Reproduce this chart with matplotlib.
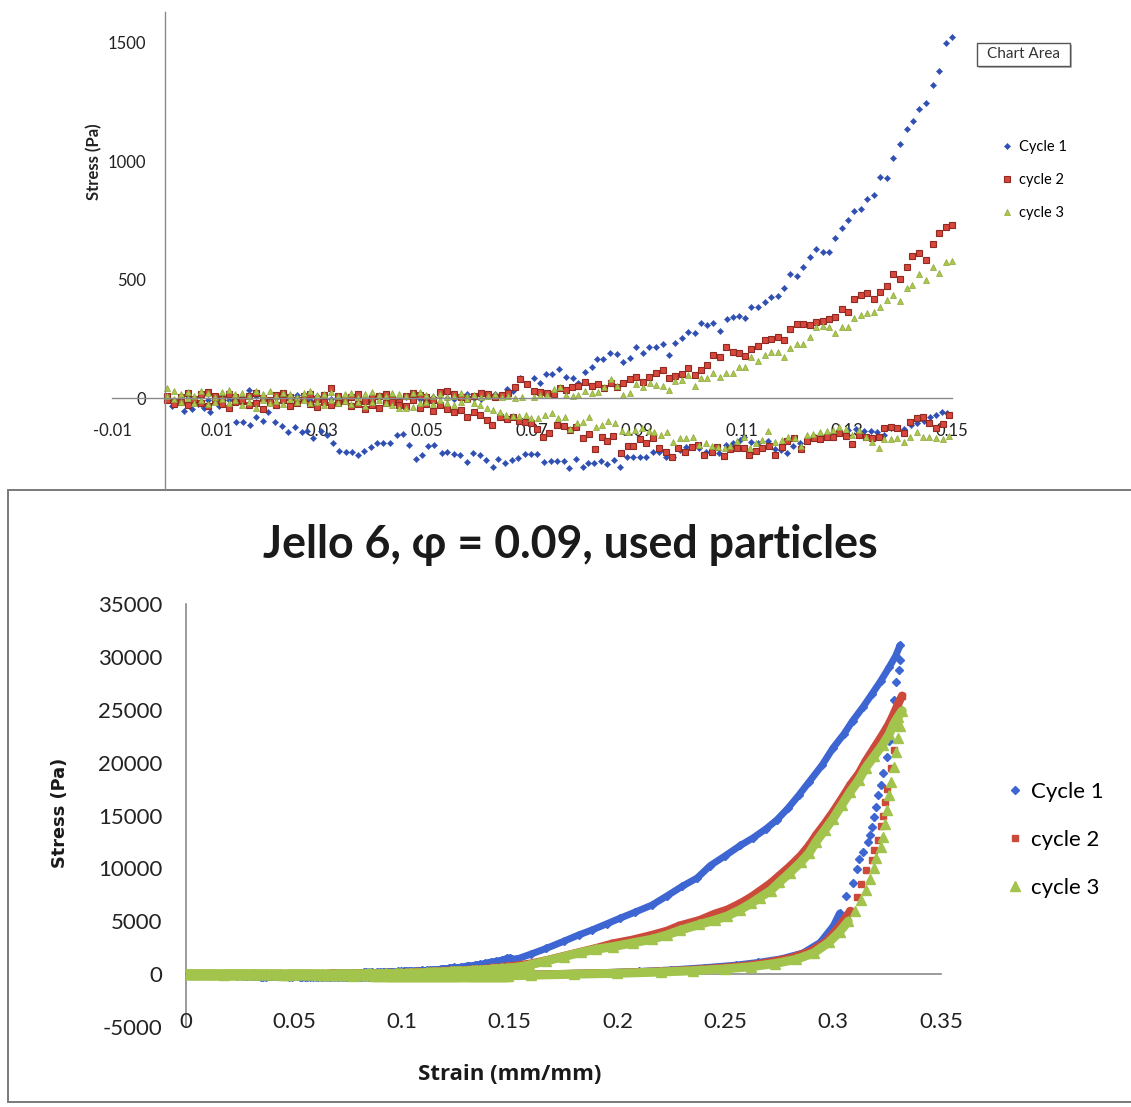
import numpy as np
import matplotlib
matplotlib.use('Agg')
import matplotlib.pyplot as plt
from matplotlib.patches import Rectangle

# ---------------- DATA ----------------
# shared strain grid for the noisy band near zero stress
band_strain = [0.0005, 0.0018, 0.0031, 0.0044, 0.0057, 0.0070, 0.0083, 0.0096, 0.0109, 0.0122,
               0.0135, 0.0148, 0.0161, 0.0174, 0.0187, 0.0200, 0.0213, 0.0226, 0.0239, 0.0252,
               0.0265, 0.0278, 0.0291, 0.0304, 0.0317, 0.0330, 0.0343, 0.0356, 0.0369, 0.0382,
               0.0395, 0.0408, 0.0421, 0.0434, 0.0447, 0.0460, 0.0473, 0.0486, 0.0499, 0.0512,
               0.0525, 0.0538, 0.0551, 0.0564, 0.0577, 0.0590, 0.0603, 0.0616, 0.0629, 0.0642,
               0.0655, 0.0668, 0.0681]

# Cycle 1 loading
c1_load_band = [-5, -18, -10, 8, -15, -24, -10, 5, 12, -8, -18, 3, 34, 10, -5, -12, 2, -8, 5, 12,
                -3, -10, 8, 6, -4, -15, -8, 3, 10, -6, -12, 2, 7, -3, -10, 4, 9, -2, -8, 5,
                12, 0, -6, 8, 15, 2, -3, 10, 18]
c1_load_strain_r = [0.0653, 0.0664, 0.0678, 0.0703, 0.0715, 0.0727, 0.0739, 0.0752, 0.0765, 0.0778,
                    0.0788, 0.0801, 0.0814, 0.0823, 0.0836, 0.0849, 0.0861, 0.0874, 0.0887, 0.0899,
                    0.0912, 0.0923, 0.0936, 0.0949, 0.0960, 0.0972, 0.0985, 0.0998, 0.1010, 0.1021,
                    0.1033, 0.1045, 0.1058, 0.1071, 0.1083, 0.1095, 0.1106, 0.1118, 0.1131, 0.1144,
                    0.1155, 0.1168, 0.1180, 0.1191, 0.1204, 0.1217, 0.1230, 0.1241, 0.1254, 0.1265,
                    0.1277, 0.1290, 0.1302, 0.1313, 0.1327, 0.1339, 0.1351, 0.1363, 0.1377, 0.1388,
                    0.1401, 0.1414, 0.1426, 0.1438, 0.1450, 0.1463, 0.1475, 0.1488, 0.1500,
                    0.153, 0.160, 0.167, 0.175, 0.182, 0.188, 0.195, 0.201, 0.208, 0.216,
                    0.223, 0.230, 0.237, 0.243, 0.250, 0.257, 0.263, 0.269, 0.274, 0.279,
                    0.284, 0.289, 0.295, 0.300, 0.305, 0.309, 0.314, 0.318, 0.322, 0.326,
                    0.329, 0.331]
c1_load_stress_r = [40, 31, 83, 83, 62, 101, 101, 124, 90, 83,
                    65, 111, 130, 163, 163, 191, 186, 153, 168, 214,
                    189, 214, 214, 228, 181, 233, 252, 280, 273, 318,
                    308, 315, 284, 332, 340, 346, 336, 385, 383, 406,
                    425, 432, 463, 523, 515, 554, 596, 627, 615, 615,
                    676, 716, 751, 790, 796, 838, 857, 934, 928, 1011,
                    1073, 1135, 1170, 1218, 1244, 1321, 1381, 1499, 1525,
                    1400, 1900, 2430, 3100, 3700, 4160, 4750, 5270, 5850, 6530,
                    7400, 8300, 9100, 10260, 11200, 12170, 12900, 13760, 14600, 15670,
                    16900, 18210, 19800, 21400, 22700, 23940, 25300, 26490, 27700, 29030,
                    30100, 31100]

# Cycle 1 unloading (listed by increasing strain)
c1_unload_strain = [0.0014, 0.0023, 0.0037, 0.0052, 0.0063, 0.0075, 0.0087, 0.0104, 0.0123, 0.0136,
                    0.0149, 0.0162, 0.0174, 0.0187, 0.0198, 0.0210, 0.0223, 0.0236, 0.0249, 0.0261,
                    0.0272, 0.0283, 0.0298, 0.0309, 0.0321, 0.0333, 0.0346, 0.0357, 0.0369, 0.0380,
                    0.0393, 0.0404, 0.0417, 0.0430, 0.0442, 0.0454, 0.0466, 0.0479, 0.0490, 0.0502,
                    0.0513, 0.0528, 0.0539, 0.0551, 0.0563, 0.0576, 0.0588, 0.0601, 0.0612, 0.0625,
                    0.0636, 0.0649, 0.0661, 0.0674, 0.0687, 0.0699, 0.0710, 0.0723, 0.0736, 0.0747,
                    0.0760, 0.0771, 0.0784, 0.0797, 0.0807, 0.0818, 0.0831, 0.0843, 0.0856, 0.0868,
                    0.0880, 0.0893, 0.0906, 0.0918, 0.0930, 0.0942, 0.0955, 0.0968, 0.0981, 0.0993,
                    0.1006, 0.1019, 0.1031, 0.1044, 0.1057, 0.1070, 0.1083, 0.1096, 0.1103, 0.1117,
                    0.1130, 0.1150, 0.1163, 0.1175, 0.1186, 0.1198, 0.1210, 0.1223, 0.1239, 0.1250,
                    0.1260, 0.1273, 0.1287, 0.1302, 0.1318, 0.1332, 0.1345, 0.1358, 0.1370, 0.1383,
                    0.1396, 0.1409, 0.1421, 0.1434, 0.1447, 0.1458, 0.1470, 0.1480, 0.1491,
                    0.155, 0.170, 0.190, 0.210, 0.225, 0.240, 0.255, 0.265, 0.276, 0.286,
                    0.294, 0.300, 0.303, 0.306, 0.309, 0.311, 0.312, 0.314, 0.316, 0.317,
                    0.318, 0.319, 0.320, 0.321, 0.322, 0.323, 0.325, 0.326, 0.327, 0.328,
                    0.329, 0.3305, 0.331]
c1_unload_stress = [-32, -22, -55, -46, -27, -40, -60, -32, -39, -100,
                    -100, -114, -79, -97, -58, -100, -117, -142, -124, -142,
                    -139, -170, -138, -156, -190, -222, -226, -226, -240, -224,
                    -205, -191, -189, -189, -156, -152, -198, -257, -240, -201,
                    -198, -231, -227, -236, -241, -269, -233, -241, -262, -290,
                    -259, -273, -262, -255, -236, -238, -238, -269, -265, -265,
                    -265, -297, -259, -292, -273, -273, -265, -279, -262, -292,
                    -248, -250, -250, -250, -227, -227, -248, -250, -219, -208,
                    -205, -212, -227, -215, -232, -200, -190, -175, -166, -185,
                    -190, -180, -217, -220, -231, -203, -189, -174, -166, -160,
                    -156, -150, -142, -135, -132, -141, -138, -145, -156, -128,
                    -125, -132, -114, -104, -96, -79, -72, -58, -62,
                    -50, 30, 120, 250, 400, 600, 850, 1100, 1450, 2000,
                    3000, 4540, 5770, 7380, 8610, 9930, 10880, 11540, 12490, 13150,
                    13910, 14850, 15800, 16930, 17880, 19010, 20500, 22000, 24000, 25920,
                    27620, 28760, 29700]

# Cycle 2 loading
c2_load_band = [10, -15, 5, 20, -10, 15, 25, 8, -5, 18, 5, -12, 10, 22, 0, -8, 12, 20, 5, -10,
                8, 15, -5, 12, 41, 10, -8, 5, 15, -12, 0, 10, 18, -5, -15, 8, 20, 12, 5, -10,
                25, 30, 15, 5, -5, 10, 20, 15, 5, 12]
c2_load_strain_r = [0.0655, 0.0668, 0.0678, 0.0690, 0.0703, 0.0716, 0.0728, 0.0741, 0.0753, 0.0765,
                    0.0776, 0.0788, 0.0801, 0.0814, 0.0825, 0.0837, 0.0850, 0.0862, 0.0874, 0.0887,
                    0.0899, 0.0912, 0.0923, 0.0936, 0.0949, 0.0960, 0.0972, 0.0985, 0.0998, 0.1010,
                    0.1021, 0.1033, 0.1045, 0.1058, 0.1070, 0.1082, 0.1095, 0.1106, 0.1118, 0.1131,
                    0.1144, 0.1155, 0.1168, 0.1180, 0.1191, 0.1204, 0.1217, 0.1230, 0.1241, 0.1254,
                    0.1265, 0.1277, 0.1290, 0.1302, 0.1313, 0.1327, 0.1339, 0.1351, 0.1363, 0.1377,
                    0.1388, 0.1401, 0.1414, 0.1424, 0.1438, 0.1450, 0.1463, 0.1475, 0.1488, 0.1500,
                    0.155, 0.160, 0.167, 0.175, 0.183, 0.190, 0.198, 0.207, 0.216, 0.223,
                    0.229, 0.238, 0.245, 0.251, 0.257, 0.262, 0.266, 0.271, 0.275, 0.280,
                    0.285, 0.289, 0.292, 0.296, 0.300, 0.304, 0.308, 0.312, 0.315, 0.319,
                    0.323, 0.326, 0.328, 0.330, 0.332]
c2_load_stress_r = [22, 45, 79, 59, 31, 25, 20, 17, 41, 35,
                    45, 51, 69, 51, 58, 41, 62, 48, 62, 79,
                    87, 69, 87, 104, 118, 83, 93, 101, 125, 97,
                    118, 141, 181, 172, 217, 195, 189, 177, 205, 219,
                    245, 249, 259, 245, 291, 312, 312, 308, 322, 326,
                    332, 340, 374, 364, 416, 435, 444, 416, 449, 473,
                    523, 501, 554, 600, 610, 582, 650, 695, 720, 730,
                    850, 1000, 1300, 1700, 2100, 2450, 2900, 3250, 3700, 4100,
                    4600, 5100, 5700, 6100, 6700, 7300, 7870, 8600, 9310, 10200,
                    11210, 12200, 13120, 14200, 15350, 16600, 17900, 19000, 20120, 21400,
                    22670, 23700, 24580, 25500, 26330]

# Cycle 2 unloading
c2_unload_band = [-10, -25, -15, -30, -5, -20, -35, -12, -25, -40, -18, -8, -30, -22, -45, -15,
                  -28, -10, -35, -20, -5, -25, -38, -15, -30, -20, -12, -35, -25, -45, -30, -43,
                  -20, -15, -28, -35, -10, -40, -25, -55, -30, -45, -60, -50]
c2_unload_strain_r = [0.0576, 0.0589, 0.0601, 0.0614, 0.0623, 0.0639, 0.0652, 0.0664, 0.0676, 0.0687,
                      0.0699, 0.0710, 0.0720, 0.0733, 0.0747, 0.0760, 0.0772, 0.0784, 0.0797, 0.0809,
                      0.0820, 0.0833, 0.0842, 0.0855, 0.0869, 0.0882, 0.0893, 0.0906, 0.0918, 0.0931,
                      0.0942, 0.0955, 0.0966, 0.0979, 0.0991, 0.1004, 0.1017, 0.1028, 0.1042, 0.1053,
                      0.1066, 0.1078, 0.1091, 0.1103, 0.1114, 0.1127, 0.1139, 0.1152, 0.1163, 0.1176,
                      0.1186, 0.1199, 0.1212, 0.1224, 0.1237, 0.1249, 0.1261, 0.1273, 0.1285, 0.1298,
                      0.1309, 0.1323, 0.1336, 0.1347, 0.1360, 0.1370, 0.1383, 0.1396, 0.1409, 0.1420,
                      0.1433, 0.1445, 0.1457, 0.1470, 0.1482, 0.1495,
                      0.160, 0.180, 0.200, 0.220, 0.235, 0.248, 0.260, 0.270, 0.281, 0.290,
                      0.297, 0.303, 0.308, 0.311, 0.313, 0.315, 0.318, 0.319, 0.321, 0.322,
                      0.323, 0.324, 0.325, 0.327, 0.328, 0.330, 0.331]
c2_unload_stress_r = [-79, -60, -70, -93, -114, -79, -90, -79, -95, -100,
                      -107, -130, -163, -146, -114, -120, -135, -124, -170, -152,
                      -216, -166, -180, -160, -231, -203, -203, -174, -189, -170,
                      -212, -227, -248, -212, -227, -205, -198, -240, -227, -208,
                      -245, -217, -212, -212, -240, -222, -212, -203, -240, -205,
                      -180, -170, -217, -180, -170, -174, -165, -163, -149, -160,
                      -194, -156, -166, -170, -163, -128, -121, -128, -146, -100,
                      -86, -79, -104, -128, -110, -72,
                      -60, 20, 110, 250, 400, 580, 800, 1100, 1550, 2200,
                      3100, 4540, 5980, 7270, 8550, 9830, 10800, 11760, 12720, 14000,
                      14970, 16250, 17500, 19460, 21220, 23500, 25000]

# Cycle 3 loading
c3_load_band = [42, 30, 15, 25, 10, 30, 20, 5, 25, 35, 15, 20, 8, 28, 18, 30, 10, 22, 15, 5,
                20, 28, 12, 18, 25, 10, 15, 20, 5, 18, 25, 12, 8, 22, 15, 10, 20, 25, 12, 8,
                15, 5, 10, 20, 8, 12, 5, 10, 15, 5, 8, 0, 5]
c3_load_strain_r = [0.0703, 0.0715, 0.0728, 0.0741, 0.0753, 0.0765, 0.0778, 0.0788, 0.0801, 0.0814,
                    0.0825, 0.0837, 0.0850, 0.0861, 0.0874, 0.0887, 0.0899, 0.0912, 0.0925, 0.0936,
                    0.0949, 0.0960, 0.0972, 0.0985, 0.0998, 0.1010, 0.1021, 0.1033, 0.1045, 0.1058,
                    0.1070, 0.1082, 0.1095, 0.1106, 0.1118, 0.1131, 0.1144, 0.1155, 0.1168, 0.1180,
                    0.1191, 0.1204, 0.1217, 0.1230, 0.1241, 0.1254, 0.1265, 0.1277, 0.1290, 0.1302,
                    0.1313, 0.1327, 0.1339, 0.1351, 0.1363, 0.1377, 0.1388, 0.1401, 0.1414, 0.1424,
                    0.1438, 0.1450, 0.1463, 0.1475, 0.1488, 0.1500,
                    0.155, 0.159, 0.167, 0.175, 0.183, 0.190, 0.198, 0.207, 0.216, 0.223,
                    0.229, 0.238, 0.245, 0.251, 0.257, 0.262, 0.266, 0.271, 0.275, 0.280,
                    0.285, 0.289, 0.292, 0.296, 0.300, 0.304, 0.308, 0.312, 0.315, 0.319,
                    0.323, 0.326, 0.328, 0.330, 0.332]
c3_load_stress_r = [3, 13, 13, 37, 45, 13, 8, 13, 31, 20,
                    27, 48, 79, 51, 13, 22, 59, 45, 62, 55,
                    51, 34, 73, 76, 97, 51, 83, 83, 107, 90,
                    107, 107, 130, 130, 172, 157, 181, 195, 195, 174,
                    210, 228, 228, 259, 301, 304, 298, 276, 298, 298,
                    336, 350, 360, 364, 383, 414, 435, 411, 463, 477,
                    523, 498, 554, 529, 575, 579,
                    700, 850, 1250, 1650, 2050, 2350, 2600, 2950, 3300, 3700,
                    4150, 4700, 5100, 5500, 6100, 6700, 7240, 7900, 8670, 9600,
                    10580, 11500, 12490, 13600, 14710, 16000, 17260, 18400, 19490, 20600,
                    21710, 22700, 23620, 24300, 24900]

# Cycle 3 unloading
c3_unload_band = [10, -5, -15, 0, -20, -10, -25, -15, -5, -20, -10, -30, -15, -42, -8, -20,
                  -12, -25, -5, -18, -10, -22, -15, -30, -8, -20, -12, -25, -18, -35, -15, -10,
                  -20, -30, -40, -43, -38, -20, -15, -25, -10, -20, -30, -15, -5, -20]
c3_unload_strain_r = [0.0601, 0.0614, 0.0626, 0.0639, 0.0650, 0.0663, 0.0676, 0.0689, 0.0699, 0.0712,
                      0.0725, 0.0738, 0.0750, 0.0763, 0.0772, 0.0785, 0.0798, 0.0809, 0.0822, 0.0833,
                      0.0845, 0.0858, 0.0871, 0.0883, 0.0896, 0.0909, 0.0922, 0.0932, 0.0945, 0.0957,
                      0.0968, 0.0981, 0.0993, 0.1006, 0.1019, 0.1031, 0.1042, 0.1055, 0.1068, 0.1078,
                      0.1091, 0.1103, 0.1115, 0.1127, 0.1139, 0.1150, 0.1163, 0.1176, 0.1188, 0.1201,
                      0.1212, 0.1223, 0.1236, 0.1249, 0.1261, 0.1273, 0.1285, 0.1298, 0.1309, 0.1323,
                      0.1336, 0.1347, 0.1360, 0.1370, 0.1383, 0.1396, 0.1409, 0.1420, 0.1433, 0.1445,
                      0.1457, 0.1470, 0.1482, 0.1495,
                      0.160, 0.180, 0.200, 0.220, 0.235, 0.250, 0.262, 0.273, 0.283, 0.291,
                      0.298, 0.303, 0.307, 0.310, 0.313, 0.315, 0.317, 0.319, 0.320, 0.322,
                      0.323, 0.324, 0.325, 0.326, 0.327, 0.328, 0.329, 0.330, 0.331]
c3_unload_stress_r = [-30, -43, -50, -58, -72, -76, -76, -72, -86, -86,
                      -70, -62, -86, -79, -132, -107, -100, -79, -121, -114,
                      -96, -104, -138, -142, -135, -128, -138, -142, -156, -142,
                      -184, -170, -170, -166, -198, -191, -203, -208, -212, -203,
                      -180, -166, -212, -189, -177, -138, -184, -177, -166, -170,
                      -203, -156, -152, -142, -140, -135, -124, -132, -156, -135,
                      -166, -184, -212, -174, -174, -170, -184, -166, -142, -163,
                      -166, -170, -174, -160,
                      -100, 0, 80, 200, 320, 500, 700, 1000, 1400, 2000,
                      3000, 4000, 5000, 6000, 7000, 8000, 9000, 10000, 11000, 12000,
                      13000, 14200, 15500, 16900, 18200, 19600, 21000, 22300, 23500]

series_names = ['Cycle 1', 'cycle 2', 'cycle 3']
top_xticks = [-0.01, 0.01, 0.03, 0.05, 0.07, 0.09, 0.11, 0.13, 0.15]
top_yticks = [0, 500, 1000, 1500]
bot_xticks = [0, 0.05, 0.1, 0.15, 0.2, 0.25, 0.3, 0.35]
bot_xlabels = ['0', '0.05', '0.1', '0.15', '0.2', '0.25', '0.3', '0.35']
bot_yticks = [-5000, 0, 5000, 10000, 15000, 20000, 25000, 30000, 35000]
title_text = 'Jello 6, \u03c6 = 0.09, used particles'

# ---------------- assemble branches ----------------
def branch(band, strain_r, stress_r):
    s = list(band_strain[:len(band)]) + list(strain_r)
    v = list(band) + list(stress_r)
    return np.array(s), np.array(v, dtype=float)

c1_load = branch(c1_load_band, c1_load_strain_r, c1_load_stress_r)
c1_unload = (np.array(c1_unload_strain), np.array(c1_unload_stress, dtype=float))
c2_load = branch(c2_load_band, c2_load_strain_r, c2_load_stress_r)
c2_unload = branch(c2_unload_band, c2_unload_strain_r, c2_unload_stress_r)
c3_load = branch(c3_load_band, c3_load_strain_r, c3_load_stress_r)
c3_unload = branch(c3_unload_band, c3_unload_strain_r, c3_unload_stress_r)
cycles = [(c1_load, c1_unload), (c2_load, c2_unload), (c3_load, c3_unload)]

# ---------------- figure ----------------
W, H = 1131, 1107
plt.rcParams['font.family'] = ['Lato', 'DejaVu Sans']
fig = plt.figure(figsize=(W / 100, H / 100), dpi=100)
fig.patch.set_facecolor('white')

def px_axes(left, top, right, bottom):
    return fig.add_axes([left / W, 1 - bottom / H, (right - left) / W, (bottom - top) / H])

def fx(x):
    return x / W

def fy(y):
    return 1 - y / H

axis_col = '#8a8a8a'

# ---- bottom chart panel (behind everything) ----
fig.add_artist(Rectangle((fx(8), fy(1102)), (1140 - 8) / W, (1102 - 490) / H,
                         transform=fig.transFigure, fc='white', ec='#7a7a7a', lw=1.4,
                         zorder=-5))

# ---- top chart ----
top_style = [dict(marker='D', ms=3.2, mfc='#2f4fb3', mec='#2f4fb3', mew=0.3),
             dict(marker='s', ms=4.0, mfc='#d8473c', mec='#8e2a22', mew=0.8),
             dict(marker='^', ms=4.6, mfc='#abc84c', mec='#8aa638', mew=0.5)]

ax1 = px_axes(112, 12, 952, 490)
ax1.set_xlim(-0.01, 0.15)
ax1.set_ylim(-388, 1629)
handles1 = []
for (ld, ul), st, nm in zip(cycles, top_style, series_names):
    h = None
    for s, v in (ld, ul):
        m = s <= 0.1505
        ln, = ax1.plot(s[m], v[m], ls='none', clip_on=False, label=nm, **st)
        h = h or ln
    handles1.append(h)
for sp in ('top', 'right'):
    ax1.spines[sp].set_visible(False)
ax1.spines['left'].set_position(('data', 0))
ax1.spines['bottom'].set_position(('data', 0))
for sp in ('left', 'bottom'):
    ax1.spines[sp].set_color(axis_col)
    ax1.spines[sp].set_linewidth(1.0)
ax1.set_xticks(top_xticks)
ax1.set_xticklabels(['%.2f' % t for t in top_xticks])
ax1.set_yticks(top_yticks)
ax1.set_yticklabels([str(t) for t in top_yticks])
ax1.tick_params(axis='x', length=0, pad=18, labelsize=12, colors='#222222')
ax1.tick_params(axis='y', length=0, pad=13, labelsize=12, colors='#222222')
ax1.patch.set_alpha(0)

ylab1 = fig.text(fx(94), fy(162), 'Stress (Pa)', rotation=90, ha='center', va='center',
                 fontsize=11, fontweight='bold', color='#222222')

leg1 = fig.legend(handles=handles1, labels=series_names, loc='center left',
                  bbox_to_anchor=(fx(1002), fy(180)), frameon=False, fontsize=10.5,
                  handlelength=0.7, handletextpad=0.45, labelspacing=1.33,
                  borderpad=0, borderaxespad=0)

# Chart Area tooltip
fig.add_artist(Rectangle((fx(979), fy(68)), (1072 - 979) / W, (68 - 45) / H,
                         transform=fig.transFigure, fc='#b8b8b8', ec='none'))
fig.add_artist(Rectangle((fx(977), fy(66)), (1070 - 977) / W, (66 - 43) / H,
                         transform=fig.transFigure, fc='white', ec='#555555', lw=1.0))
fig.text(fx(1023.5), fy(54.5), 'Chart Area', ha='center', va='center', fontsize=11,
         color='#333333')

# ---- bottom chart ----
bot_style = [dict(color='#3e66d2', marker='D', ms=4.5, lw=5.0),
             dict(color='#cc4a3c', marker='s', ms=5.0, lw=6.0),
             dict(color='#a2c44c', marker='^', ms=6.5, lw=6.5)]

ax2 = px_axes(186, 604, 941, 1027)
ax2.set_xlim(0, 0.35)
ax2.set_ylim(-5000, 35000)
handles2 = []
for (ld, ul), st, nm in zip(cycles, bot_style, series_names):
    c = st['color']
    s, v = ld
    ax2.plot(s, v, color=c, lw=st['lw'], solid_capstyle='round', zorder=2)
    h, = ax2.plot(s, v, ls='none', marker=st['marker'], ms=st['ms'], mfc=c, mec=c, zorder=2)
    s, v = ul
    vline = np.where(v < 6000, v, np.nan)
    ax2.plot(s, vline, color=c, lw=st['lw'], solid_capstyle='round', zorder=2)
    ax2.plot(s, v, ls='none', marker=st['marker'], ms=st['ms'], mfc=c, mec=c, zorder=2)
    handles2.append(h)
for sp in ('top', 'right'):
    ax2.spines[sp].set_visible(False)
ax2.spines['left'].set_position(('data', 0))
ax2.spines['bottom'].set_position(('data', 0))
for sp in ('left', 'bottom'):
    ax2.spines[sp].set_color(axis_col)
    ax2.spines[sp].set_linewidth(1.2)
    ax2.spines[sp].set_zorder(1)
ax2.set_xticks(bot_xticks)
ax2.set_xticklabels(bot_xlabels)
ax2.set_yticks(bot_yticks)
ax2.set_yticklabels([str(t) for t in bot_yticks])
ax2.tick_params(axis='x', length=0, pad=27, labelsize=16, colors='#222222')
ax2.tick_params(axis='y', length=0, pad=17, labelsize=16, colors='#222222')
ax2.patch.set_alpha(0)

title = fig.text(fx(570), fy(545), title_text, ha='center', va='center',
                 fontsize=28, fontweight='bold', color='#1a1a1a')
ylab2 = fig.text(fx(60), fy(813), 'Stress (Pa)', rotation=90, ha='center', va='center',
                 fontsize=14, fontweight='bold', color='#1a1a1a', family=['DejaVu Sans'])
xlab2 = fig.text(fx(510), fy(1075), 'Strain (mm/mm)', ha='center', va='center',
                 fontsize=15, fontweight='bold', color='#1a1a1a', family=['Open Sans'])

leg2 = fig.legend(handles=handles2, labels=series_names, loc='center left',
                  bbox_to_anchor=(fx(1008), fy(840)), frameon=False, fontsize=16,
                  handlelength=0.6, handletextpad=0.45, labelspacing=1.27,
                  borderpad=0, borderaxespad=0)

# fit text extents to the reference sizes
def fit(t, target, dim):
    fig.canvas.draw()
    bb = t.get_window_extent(fig.canvas.get_renderer())
    cur = bb.width if dim == 'w' else bb.height
    t.set_fontsize(t.get_fontsize() * target / cur)

fit(title, 615.0, 'w')
fit(xlab2, 185.0, 'w')
fit(ylab2, 110.0, 'h')
fit(ylab1, 77.0, 'h')

fig.savefig('out.png', dpi=100, facecolor='white')
